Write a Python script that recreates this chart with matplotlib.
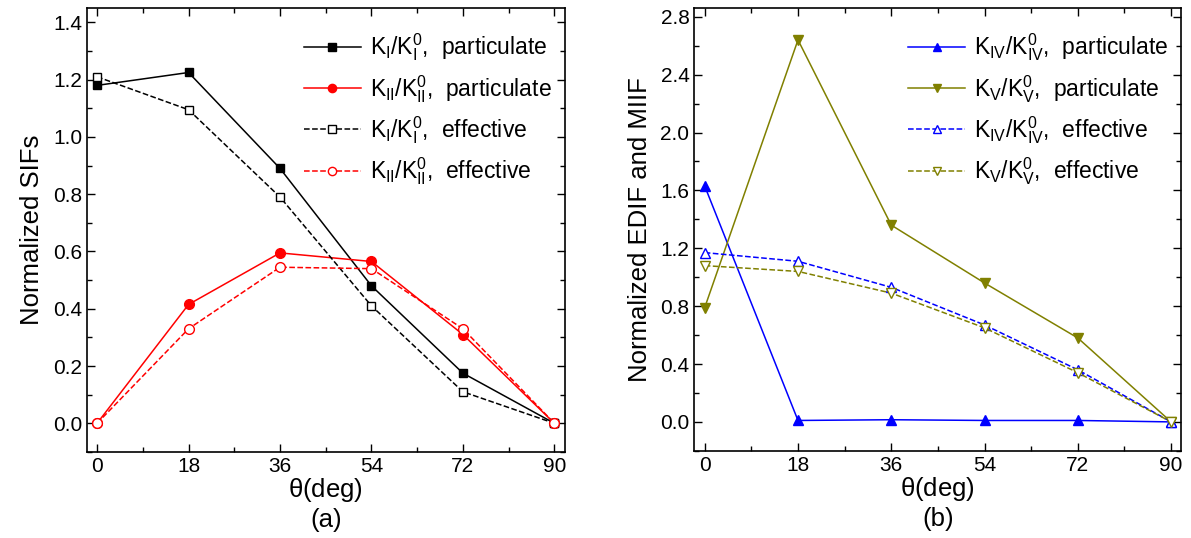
"""Normalized SIFs and EDIF/MIIF against crack angle."""

import matplotlib
matplotlib.use("Agg")
import matplotlib.pyplot as plt
from matplotlib.ticker import MultipleLocator

plt.rcParams["font.family"] = ["Liberation Sans", "DejaVu Sans"]
plt.rcParams["mathtext.fontset"] = "custom"
plt.rcParams["mathtext.rm"] = "Liberation Sans"
plt.rcParams["mathtext.it"] = "Liberation Sans"

theta = [0, 18, 36, 54, 72, 90]

# panel (a)
k1_part = [1.18, 1.225, 0.89, 0.48, 0.175, 0.0]
k2_part = [0.0, 0.415, 0.595, 0.565, 0.31, 0.0]
k1_eff = [1.21, 1.095, 0.79, 0.41, 0.11, 0.0]
k2_eff = [0.0, 0.33, 0.545, 0.54, 0.33, 0.0]

# panel (b)
k4_part = [1.63, 0.01, 0.015, 0.01, 0.01, 0.0]
k5_part = [0.79, 2.64, 1.36, 0.96, 0.58, 0.0]
k4_eff = [1.17, 1.11, 0.93, 0.67, 0.36, 0.0]
k5_eff = [1.08, 1.04, 0.89, 0.65, 0.34, 0.0]

OLIVE = "#808000"


def lab(sub, kind):
    """Legend label K_sub/K_sub^0, kind."""
    return rf"$\mathrm{{K_{{{sub}}}/K_{{{sub}}}^{{0}}}}$,  {kind}"


def style_axes(ax):
    ax.set_xlim(-2, 92)
    ax.set_xticks(theta)
    ax.xaxis.set_minor_locator(MultipleLocator(9))
    ax.tick_params(which="both", direction="in", top=True, right=True,
                   labelsize=15, width=1)
    ax.tick_params(which="major", length=6)
    ax.tick_params(which="minor", length=3.5)
    for s in ax.spines.values():
        s.set_linewidth(1.2)
    ax.set_xlabel(r"$\mathrm{\theta}$(deg)", fontsize=18.5, labelpad=0)


def add_legend(ax):
    ax.legend(loc="upper right", bbox_to_anchor=(1.0, 0.975), frameon=False,
              fontsize=16.5, handlelength=2.5, handletextpad=0.4,
              labelspacing=0.42, borderaxespad=0.15, markerscale=0.85)


fig = plt.figure(figsize=(11.91, 5.38), dpi=100)
ax1 = fig.add_axes([0.073, 0.160, 0.401, 0.825])
ax2 = fig.add_axes([0.583, 0.162, 0.409, 0.823])

ms = 6
ax1.plot(theta, k1_part, "-", color="black", marker="s", ms=ms, lw=1.1,
         label=lab("I", "particulate"))
ax1.plot(theta, k2_part, "-", color="red", marker="o", ms=ms + 1, lw=1.1,
         label=lab("II", "particulate"))
ax1.plot(theta, k1_eff, "--", color="black", marker="s", ms=ms, lw=1.1,
         mfc="white", label=lab("I", "effective"))
ax1.plot(theta, k2_eff, "--", color="red", marker="o", ms=ms + 1, lw=1.1,
         mfc="white", label=lab("II", "effective"))
style_axes(ax1)
ax1.set_ylim(-0.1, 1.45)
ax1.yaxis.set_major_locator(MultipleLocator(0.2))
ax1.yaxis.set_minor_locator(MultipleLocator(0.1))
ax1.yaxis.set_major_formatter(lambda v, p: f"{v:.1f}")
ax1.set_ylabel("Normalized SIFs", fontsize=18.5, labelpad=6)
add_legend(ax1)
ax1.text(0.5, -0.153, "(a)", transform=ax1.transAxes, ha="center",
         va="center", fontsize=18.5)

ax2.plot(theta, k4_part, "-", color="blue", marker="^", ms=ms + 1, lw=1.1,
         label=lab("IV", "particulate"))
ax2.plot(theta, k5_part, "-", color=OLIVE, marker="v", ms=ms + 1, lw=1.1,
         label=lab("V", "particulate"))
ax2.plot(theta, k4_eff, "--", color="blue", marker="^", ms=ms + 1, lw=1.1,
         mfc="white", label=lab("IV", "effective"))
ax2.plot(theta, k5_eff, "--", color=OLIVE, marker="v", ms=ms + 1, lw=1.1,
         mfc="white", label=lab("V", "effective"))
style_axes(ax2)
ax2.set_ylim(-0.2, 2.86)
ax2.yaxis.set_major_locator(MultipleLocator(0.4))
ax2.yaxis.set_minor_locator(MultipleLocator(0.2))
ax2.yaxis.set_major_formatter(lambda v, p: f"{v:.1f}")
ax2.set_ylabel("Normalized EDIF and MIIF", fontsize=18.5, labelpad=6)
add_legend(ax2)
ax2.text(0.5, -0.153, "(b)", transform=ax2.transAxes, ha="center",
         va="center", fontsize=18.5)

fig.savefig("out.png", dpi=100)
